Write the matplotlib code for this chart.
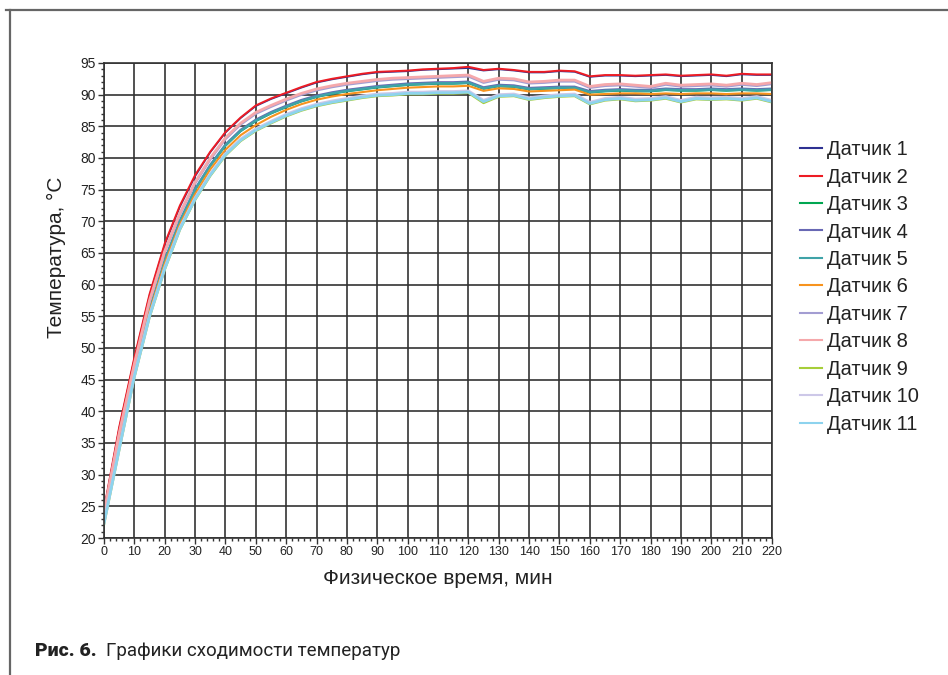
import numpy as np
import matplotlib
matplotlib.use("Agg")
import matplotlib.pyplot as plt
from matplotlib.lines import Line2D
from matplotlib.ticker import MultipleLocator

plt.rcParams['font.family'] = ['Liberation Sans', 'DejaVu Sans']

time_min = list(range(0, 221, 5))

sensor_names = ["Датчик 1", "Датчик 2", "Датчик 3", "Датчик 4", "Датчик 5", "Датчик 6",
                "Датчик 7", "Датчик 8", "Датчик 9", "Датчик 10", "Датчик 11"]

s1 = [24.4, 37.3, 48.3, 58.3, 66.3, 72.3, 77.1, 80.9, 84.0, 86.3, 88.2, 89.3, 90.2, 91.1, 91.9, 92.4,
      92.8, 93.2, 93.5, 93.6, 93.7, 93.9, 94.0, 94.1, 94.2, 93.8, 94.0, 93.8, 93.5, 93.5, 93.7, 93.6,
      92.8, 93.0, 93.0, 92.9, 93.0, 93.1, 92.9, 93.0, 93.1, 92.9, 93.2, 93.1, 93.1]
s2 = [24.5, 37.5, 48.5, 58.5, 66.5, 72.5, 77.3, 81.0, 84.1, 86.4, 88.3, 89.4, 90.3, 91.2, 92.0, 92.5,
      92.9, 93.3, 93.6, 93.7, 93.8, 94.0, 94.1, 94.2, 94.4, 93.9, 94.1, 93.9, 93.6, 93.6, 93.8, 93.7,
      92.9, 93.1, 93.1, 93.0, 93.1, 93.2, 93.0, 93.1, 93.2, 93.0, 93.3, 93.2, 93.2]
s3 = [23.0, 34.9, 46.4, 55.9, 63.7, 69.9, 74.9, 78.7, 81.9, 84.2, 85.8, 87.0, 88.0, 88.9, 89.6, 90.1,
      90.5, 90.8, 91.1, 91.3, 91.5, 91.6, 91.7, 91.7, 91.8, 90.9, 91.3, 91.2, 90.8, 90.9, 91.0, 91.0,
      90.3, 90.5, 90.6, 90.5, 90.5, 90.7, 90.6, 90.6, 90.7, 90.6, 90.7, 90.6, 90.7]
s4 = [23.1, 35.2, 46.7, 56.2, 64.0, 70.2, 75.2, 79.0, 82.2, 84.5, 86.1, 87.3, 88.3, 89.2, 89.9, 90.4,
      90.8, 91.1, 91.4, 91.6, 91.8, 91.9, 92.0, 92.0, 92.1, 91.2, 91.6, 91.5, 91.1, 91.2, 91.3, 91.3,
      90.6, 90.8, 90.9, 90.8, 90.8, 91.0, 90.9, 90.9, 91.0, 90.9, 91.0, 90.9, 91.0]
s5 = [23.0, 35.0, 46.5, 56.0, 63.8, 70.0, 75.0, 78.8, 82.0, 84.3, 85.9, 87.1, 88.1, 89.0, 89.7, 90.2,
      90.6, 90.9, 91.2, 91.4, 91.6, 91.7, 91.8, 91.8, 91.9, 91.0, 91.4, 91.3, 90.9, 91.0, 91.1, 91.1,
      90.4, 90.6, 90.7, 90.6, 90.6, 90.8, 90.7, 90.7, 90.8, 90.7, 90.8, 90.7, 90.8]
s6 = [23.2, 35.0, 46.3, 55.7, 63.3, 69.5, 74.3, 78.2, 81.3, 83.6, 85.2, 86.5, 87.6, 88.5, 89.2, 89.7,
      90.1, 90.4, 90.7, 90.9, 91.1, 91.2, 91.3, 91.3, 91.4, 90.6, 91.0, 90.9, 90.5, 90.6, 90.7, 90.8,
      90.0, 90.1, 90.2, 90.2, 90.1, 90.2, 90.1, 90.2, 90.2, 90.1, 90.2, 90.2, 90.1]
s7 = [23.9, 36.3, 47.3, 57.3, 65.1, 71.1, 76.0, 79.8, 83.0, 85.3, 87.0, 88.1, 89.1, 90.0, 90.7, 91.2,
      91.6, 91.9, 92.2, 92.4, 92.5, 92.6, 92.7, 92.8, 92.9, 91.9, 92.4, 92.3, 91.8, 91.9, 92.1, 92.1,
      91.1, 91.4, 91.5, 91.3, 91.1, 91.6, 91.3, 91.4, 91.5, 91.3, 91.6, 91.4, 91.7]
s8 = [24.0, 36.5, 47.5, 57.5, 65.3, 71.3, 76.2, 80.0, 83.2, 85.5, 87.2, 88.3, 89.3, 90.2, 90.9, 91.4,
      91.8, 92.1, 92.4, 92.6, 92.7, 92.8, 92.9, 93.0, 93.1, 92.1, 92.6, 92.5, 92.0, 92.1, 92.3, 92.3,
      91.3, 91.6, 91.7, 91.5, 91.3, 91.8, 91.5, 91.6, 91.7, 91.5, 91.8, 91.6, 91.9]
s9 = [22.2, 33.9, 45.4, 54.9, 62.4, 68.7, 73.4, 77.2, 80.4, 82.7, 84.3, 85.5, 86.6, 87.5, 88.2, 88.7,
      89.1, 89.5, 89.8, 89.9, 90.1, 90.1, 90.2, 90.2, 90.3, 88.7, 89.7, 89.8, 89.2, 89.5, 89.7, 89.8,
      88.5, 89.1, 89.3, 89.0, 89.1, 89.4, 88.8, 89.3, 89.2, 89.3, 89.1, 89.4, 88.8]
s10 = [22.5, 34.2, 45.7, 55.2, 62.7, 69.0, 73.7, 77.5, 80.7, 83.0, 84.6, 85.8, 86.9, 87.8, 88.5, 89.0,
       89.4, 89.8, 90.1, 90.2, 90.4, 90.4, 90.5, 90.5, 90.6, 89.1, 90.0, 90.1, 89.5, 89.8, 90.0, 90.1,
       88.8, 89.4, 89.6, 89.3, 89.4, 89.7, 89.1, 89.6, 89.5, 89.6, 89.4, 89.7, 89.1]
s11 = [22.3, 34.0, 45.5, 55.0, 62.5, 68.8, 73.5, 77.3, 80.5, 82.8, 84.4, 85.6, 86.7, 87.6, 88.3, 88.8,
       89.2, 89.6, 89.9, 90.0, 90.2, 90.2, 90.3, 90.3, 90.4, 88.9, 89.8, 89.9, 89.3, 89.6, 89.8, 89.9,
       88.6, 89.2, 89.4, 89.1, 89.2, 89.5, 88.9, 89.4, 89.3, 89.4, 89.2, 89.5, 88.9]

series = [s1, s2, s3, s4, s5, s6, s7, s8, s9, s10, s11]
colors = ["#2e3192", "#ed1c24", "#00a651", "#6868b4", "#3fa3a8", "#f7931e",
          "#a39dd2", "#f5a8ab", "#a6ce39", "#cdc8e8", "#8dd3ee"]
widths = [1.2, 1.4, 1.2, 1.2, 1.8, 1.5, 1.8, 2.0, 1.8, 2.0, 2.0]

fig = plt.figure(figsize=(9.48, 6.75), dpi=100)
ax = fig.add_axes([104 / 948, 1 - 538 / 675, (772 - 104) / 948, (538 - 63) / 675])

handles = []
for name, ys, c, w in zip(sensor_names, series, colors, widths):
    ax.plot(time_min, ys, color=c, lw=w, label=name, solid_joinstyle='round')
    handles.append(Line2D([0], [0], color=c, lw=1.5, label=name))

ax.set_xlim(0, 220)
ax.set_ylim(20, 95)
ax.xaxis.set_major_locator(MultipleLocator(10))
ax.xaxis.set_minor_locator(MultipleLocator(2))
ax.yaxis.set_major_locator(MultipleLocator(5))
ax.yaxis.set_minor_locator(MultipleLocator(1))
ax.grid(True, which='major', color='#333333', lw=1.2)
ax.set_axisbelow(True)
for sp in ax.spines.values():
    sp.set_color('#333333')
    sp.set_linewidth(1.2)
ax.tick_params(which='major', direction='out', length=4, width=1, color='#333333',
               labelcolor='#222222', pad=2)
ax.tick_params(axis='x', which='major', labelsize=9)
ax.tick_params(axis='y', which='major', labelsize=10)
ax.tick_params(which='minor', direction='out', length=2.5, width=1, color='#333333')

ax.set_xlabel("Физическое время, мин", fontsize=15, color='#222222', labelpad=8)
ax.set_ylabel("Температура, °C", fontsize=15, color='#222222')
ax.yaxis.set_label_coords(-0.057, 0.59)

fig.legend(handles=handles, loc='upper left', bbox_to_anchor=(782 / 948, 1 - 122 / 675),
           frameon=False, fontsize=14.5, handlelength=1.1, handletextpad=0.25,
           labelspacing=0.42, labelcolor='#222222')

# outer frame
fig.add_artist(Line2D([6 / 948, 1.0], [1 - 10 / 675, 1 - 10 / 675], color='#666666', lw=1.6,
                      transform=fig.transFigure))
fig.add_artist(Line2D([10 / 948, 10 / 948], [0, 1 - 10 / 675], color='#666666', lw=1.6,
                      transform=fig.transFigure))

fig.text(35 / 948, 1 - 651 / 675, "Рис. 6.", fontsize=14, fontweight='heavy',
         family=['Roboto', 'DejaVu Sans'], color='#222222', va='center', ha='left')
fig.text(106 / 948, 1 - 651 / 675, "Графики сходимости температур", fontsize=13.5,
         family=['Roboto', 'DejaVu Sans'], color='#222222', va='center', ha='left')

fig.savefig("out.png", dpi=100)
